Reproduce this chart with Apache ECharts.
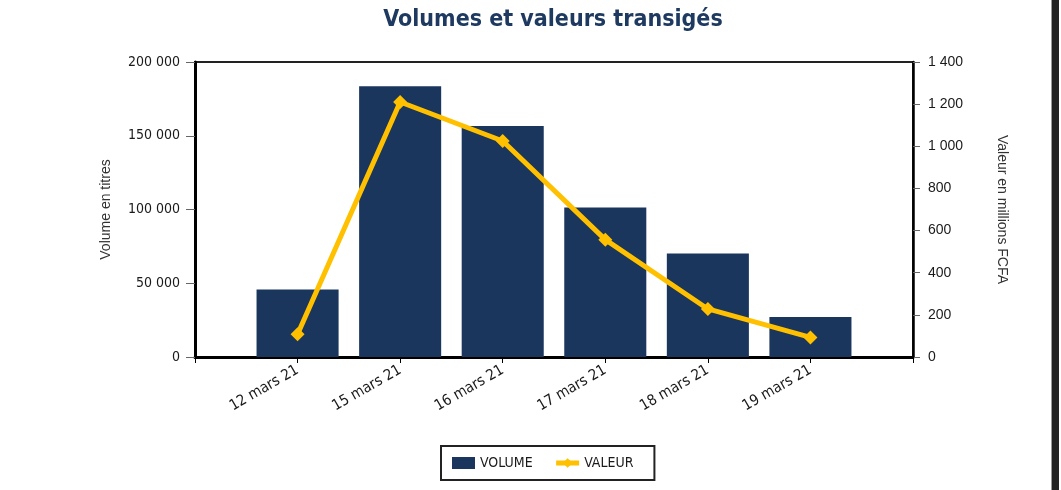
<!DOCTYPE html>
<html>
<head>
<meta charset="utf-8">
<script src="https://cdn.jsdelivr.net/npm/echarts@6/dist/echarts.min.js"></script>
<style>
html,body{margin:0;padding:0;background:#fff;}
#chart{width:1061px;height:490px;}
</style>
</head>
<body>
<div id="chart"></div>
<script>
const categories = ['12 mars 21', '15 mars 21', '16 mars 21', '17 mars 21', '18 mars 21', '19 mars 21'];
const volumes = [45700, 183500, 156600, 101300, 70100, 27100];
const valeurs = [108, 1210, 1025, 557, 228, 93];
const leftTicks = [0, 50000, 100000, 150000, 200000];
const rightTicks = [0, 200, 400, 600, 800, 1000, 1200, 1400];

const fmt = v => String(v).replace(/\B(?=(\d{3})+(?!\d))/g, ' ');
const axisCats = [''].concat(categories, ['']);
const volData = [null].concat(volumes, [null]);
const valData = [null].concat(valeurs, [null]);

const tahoma = '"DejaVu Sans Condensed", "DejaVu Sans", sans-serif';
const arial = '"Liberation Sans", Arial, sans-serif';

const chart = echarts.init(document.getElementById('chart'), null, {renderer: 'canvas'});
chart.setOption({
  backgroundColor: '#ffffff',
  animation: false,
  title: {
    text: 'Volumes et valeurs transigés',
    left: 548,
    textAlign: 'center',
    top: 4,
    textStyle: {fontFamily: tahoma, fontWeight: 'bold', fontSize: 23, color: '#1F3A60'}
  },
  grid: {left: 195, right: 148, top: 62, bottom: 133, show: true, borderColor: '#222', borderWidth: 2, backgroundColor: 'transparent'},
  legend: {
    left: 441, top: 446,
    padding: [10, 21, 10, 11],
    borderColor: '#222', borderWidth: 2,
    itemWidth: 23, itemHeight: 12, itemGap: 21,
    textStyle: {fontFamily: tahoma, fontSize: 14, color: '#1a1a1a'},
    data: [
      {name: 'VOLUME', icon: 'rect'},
      {name: 'VALEUR', lineStyle: {width: 5, color: '#FFC000'}}
    ]
  },
  xAxis: {
    type: 'category',
    data: axisCats,
    boundaryGap: false,
    axisLine: {lineStyle: {color: '#000', width: 3}},
    axisTick: {show: true, length: 6, lineStyle: {color: '#000', width: 1}, interval: 0},
    axisLabel: {interval: 0, rotate: 30, margin: 12, fontFamily: tahoma, fontSize: 15, color: '#1a1a1a'},
    splitLine: {show: false}
  },
  yAxis: [
    {
      type: 'value', min: leftTicks[0], max: leftTicks[leftTicks.length - 1], interval: 50000,
      name: 'Volume en titres', nameLocation: 'middle', nameGap: 82, nameRotate: 90,
      nameTextStyle: {fontFamily: arial, fontSize: 14, color: '#333'},
      axisLine: {show: true, lineStyle: {color: '#000', width: 3}},
      axisTick: {show: true, length: 9, lineStyle: {color: '#666', width: 1}},
      axisLabel: {margin: 15, fontFamily: tahoma, fontSize: 14, color: '#1a1a1a', formatter: v => fmt(v)},
      splitLine: {show: false}
    },
    {
      type: 'value', min: rightTicks[0], max: rightTicks[rightTicks.length - 1], interval: 200,
      position: 'right',
      name: 'Valeur en millions FCFA', nameLocation: 'middle', nameGap: 82, nameRotate: -90,
      nameTextStyle: {fontFamily: arial, fontSize: 14, color: '#333'},
      axisLine: {show: true, lineStyle: {color: '#000', width: 2.5}},
      axisTick: {show: true, length: 7, lineStyle: {color: '#666', width: 1}},
      axisLabel: {margin: 15, fontFamily: arial, fontSize: 14, color: '#1a1a1a', formatter: v => fmt(v)},
      splitLine: {show: false}
    }
  ],
  series: [
    {
      name: 'VOLUME', type: 'bar', yAxisIndex: 0, data: volData,
      barCategoryGap: '20%',
      itemStyle: {color: '#1B365D'}
    },
    {
      name: 'VALEUR', type: 'line', yAxisIndex: 1, data: valData,
      connectNulls: false,
      symbol: 'diamond', symbolSize: 14, showSymbol: true,
      lineStyle: {color: '#FFC000', width: 5},
      itemStyle: {color: '#FFC000'},
      z: 3
    }
  ],
  graphic: [
    {type: 'rect', left: 1051, top: 0, shape: {width: 1, height: 490}, style: {fill: '#999'}},
    {type: 'rect', left: 1052, top: 0, shape: {width: 7, height: 490}, style: {fill: '#222'}}
  ]
});
</script>
</body>
</html>
